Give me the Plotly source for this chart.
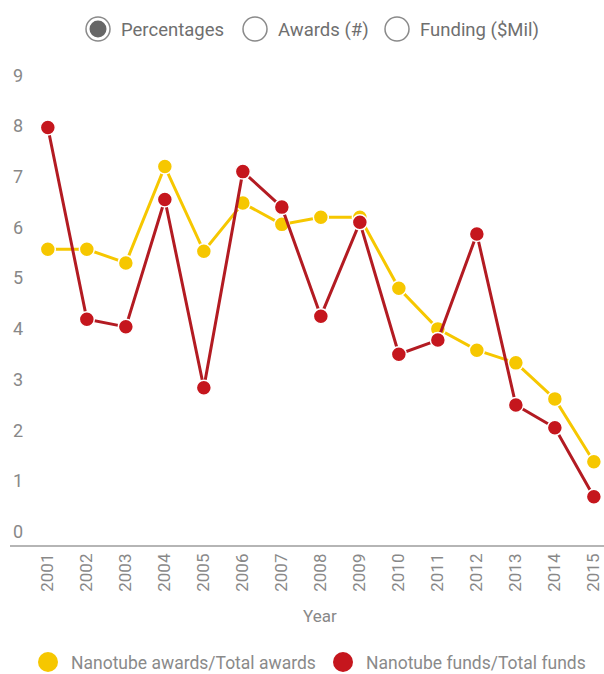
import plotly.graph_objects as go

years = [2001, 2002, 2003, 2004, 2005, 2006, 2007, 2008, 2009, 2010, 2011, 2012, 2013, 2014, 2015]
awards_pct = [5.57, 5.57, 5.30, 7.20, 5.53, 6.48, 6.06, 6.20, 6.20, 4.80, 4.00, 3.58, 3.33, 2.62, 1.38]
funds_pct = [7.97, 4.19, 4.04, 6.55, 2.84, 7.10, 6.40, 4.25, 6.10, 3.50, 3.78, 5.87, 2.50, 2.05, 0.69]
y_ticks = [0, 1, 2, 3, 4, 5, 6, 7, 8, 9]
series_names = ["Nanotube awards/Total awards", "Nanotube funds/Total funds"]
radio_labels = ["Percentages", "Awards (#)", "Funding ($Mil)"]
x_title = "Year"

YELLOW = "#F6C700"
RED_M = "#C5161D"
RED_L = "#B31B22"
TXT = "#7a7a7a"
FONT = "Roboto, sans-serif"

W, H = 604, 674
L, R, T, B = 10, 0, 60, 129
pw, ph = W - L - R, H - T - B


def px(x):
    return (x - L) / pw


def py(y):
    return (H - B - y) / ph


fig = go.Figure()
fig.add_trace(go.Scatter(
    x=years, y=awards_pct, mode="lines+markers", name=series_names[0],
    line=dict(color=YELLOW, width=3),
    marker=dict(color=YELLOW, size=15, line=dict(color="white", width=1.5)),
    showlegend=False, cliponaxis=False))
fig.add_trace(go.Scatter(
    x=years, y=funds_pct, mode="lines+markers", name=series_names[1],
    line=dict(color=RED_L, width=3),
    marker=dict(color=RED_M, size=15, line=dict(color="white", width=1.5)),
    showlegend=False, cliponaxis=False))

shapes = []
annotations = []

# radio buttons at the top
radio_x = [98, 255, 397]
for i, (cx, lab) in enumerate(zip(radio_x, radio_labels)):
    shapes.append(dict(type="circle", xref="paper", yref="paper",
                       xsizemode="pixel", ysizemode="pixel",
                       xanchor=px(cx), yanchor=py(29),
                       x0=-12, x1=12, y0=-12, y1=12,
                       line=dict(color="#8a8a8a", width=1.5),
                       fillcolor="white"))
    if i == 0:
        shapes.append(dict(type="circle", xref="paper", yref="paper",
                           xsizemode="pixel", ysizemode="pixel",
                           xanchor=px(cx), yanchor=py(29),
                           x0=-8.5, x1=8.5, y0=-8.5, y1=8.5,
                           line=dict(width=0), fillcolor="#666666"))
    annotations.append(dict(text=lab, xref="paper", yref="paper",
                            x=px(cx + 21), y=py(30), xanchor="left", yanchor="middle",
                            showarrow=False, font=dict(size=18.5, color="#6f6f6f", family=FONT)))

# bottom legend
leg = [(48, YELLOW, series_names[0]), (343, RED_M, series_names[1])]
for cx, col, lab in leg:
    shapes.append(dict(type="circle", xref="paper", yref="paper",
                       xsizemode="pixel", ysizemode="pixel",
                       xanchor=px(cx), yanchor=py(662),
                       x0=-10, x1=10, y0=-10, y1=10,
                       line=dict(width=0), fillcolor=col))
    annotations.append(dict(text=lab, xref="paper", yref="paper",
                            x=px(cx + 21), y=py(663), xanchor="left", yanchor="middle",
                            showarrow=False, font=dict(size=17.5, color="#8a8a8a", family=FONT)))

# x axis title
annotations.append(dict(text=x_title, xref="paper", yref="paper",
                        x=px(320), y=py(616), xanchor="center", yanchor="middle",
                        showarrow=False, font=dict(size=17, color="#888888", family=FONT)))

fig.update_layout(
    width=W, height=H,
    margin=dict(l=L, r=R, t=T, b=B),
    paper_bgcolor="white", plot_bgcolor="white",
    font=dict(family=FONT, color=TXT),
    shapes=shapes, annotations=annotations,
    xaxis=dict(
        range=[2000.03, 2015.26], tickmode="array", tickvals=years,
        ticktext=[str(y) for y in years], tickangle=-90,
        showgrid=False, zeroline=False, showline=True, linecolor="#b5b5b5", linewidth=1.5,
        ticks="", tickfont=dict(size=17, color="#888888"),
    ),
    yaxis=dict(
        range=[-0.26, 9.3], tickmode="array", tickvals=y_ticks,
        showgrid=False, zeroline=False, showline=False, ticks="",
        ticklabelposition="inside", tickfont=dict(size=18, color="#888888"),
    ),
)

fig.write_html("out.html", config={"displayModeBar": False})

with open("out.html", "r", encoding="utf-8") as f:
    html = f.read()
html = html.replace("<head>", "<head><style>html,body{margin:0;padding:0;overflow:hidden;}</style>", 1)
with open("out.html", "w", encoding="utf-8") as f:
    f.write(html)
